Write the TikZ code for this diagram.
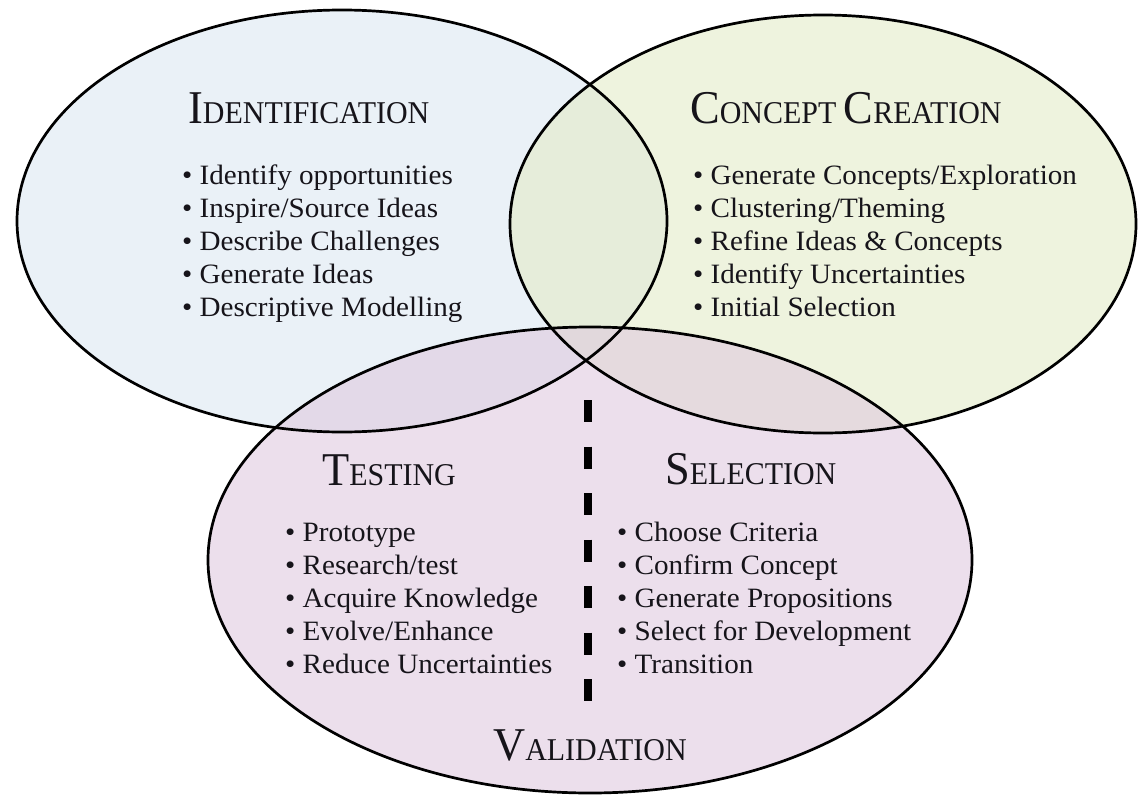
\documentclass[tikz,border=0pt]{standalone}
\usepackage{fontspec}
\setmainfont{Liberation Serif}
\newfontfamily\bodyfont{Liberation Serif}[FakeStretch=1.04]
\newfontfamily\headfont{Liberation Serif}[FakeStretch=0.945]
\newcommand\hsc[2]{{\fontsize{47}{47}\selectfont #1}{\fontsize{31.7}{32}\selectfont #2}}
\newcommand\hspc{{\fontsize{31.7}{32}\selectfont\ }}
\definecolor{idfill}{RGB}{220,231,241}
\definecolor{ccfill}{RGB}{227,235,200}
\definecolor{vafill}{RGB}{223,202,223}
\definecolor{ink}{RGB}{22,20,26}
\tikzset{
  ring/.style={draw=black, line width=2.7pt},
  head/.style={anchor=base west, inner sep=0pt, text=ink, font=\headfont},
  item/.style={anchor=base west, inner sep=0pt, text=ink, font=\bodyfont\fontsize{28}{33}\selectfont},
}
\begin{document}
\begin{tikzpicture}[x=1pt,y=-1pt]
\useasboundingbox (0,0) rectangle (1138,795);
% fills
\fill[idfill, fill opacity=0.6] (342,221) ellipse [x radius=325pt, y radius=211pt];
\fill[ccfill, fill opacity=0.6] (823,224) ellipse [x radius=313pt, y radius=209pt];
\fill[vafill, fill opacity=0.6] (590,560) ellipse [x radius=382pt, y radius=233pt];
% outlines
\draw[ring] (342,221) ellipse [x radius=325pt, y radius=211pt];
\draw[ring] (823,224) ellipse [x radius=313pt, y radius=209pt];
\draw[ring] (590,560) ellipse [x radius=382pt, y radius=233pt];
% divider
\coordinate (dtop) at (588,400);
\coordinate (dbot) at (588,703);
\draw[line width=8pt, dash pattern=on 22pt off 24.5pt] (dtop) -- (dbot);
% headings
\node[head] (hid) at (188,123) {\hsc{I}{DENTIFICATION}};
\node[head] (hcc) at (690,123) {\hsc{C}{ONCEPT}\hspc\hsc{C}{REATION}};
\node[head] (hte) at (322,485) {\hsc{T}{ESTING}};
\node[head] (hse) at (665,484) {\hsc{S}{ELECTION}};
\node[head] (hva) at (493,760) {\hsc{V}{ALIDATION}};
% lists
\foreach \t [count=\i from 0] in {Identify opportunities, Inspire/Source Ideas, Describe Challenges, Generate Ideas, Descriptive Modelling}
  \node[item] (id\i) at (182,184+33*\i) {\textbullet\ \t};
\foreach \t [count=\i from 0] in {Generate Concepts/Exploration, Clustering/Theming, Refine Ideas \& Concepts, Identify Uncertainties, Initial Selection}
  \node[item] (cc\i) at (693,184+33*\i) {\textbullet\ \t};
\foreach \t [count=\i from 0] in {Prototype, Research/test, Acquire Knowledge, Evolve/Enhance, Reduce Uncertainties}
  \node[item] (te\i) at (285,541+33*\i) {\textbullet\ \t};
\foreach \t [count=\i from 0] in {Choose Criteria, Confirm Concept, Generate Propositions, Select for Development, Transition}
  \node[item] (se\i) at (617,541+33*\i) {\textbullet\ \t};
\end{tikzpicture}
\end{document}
